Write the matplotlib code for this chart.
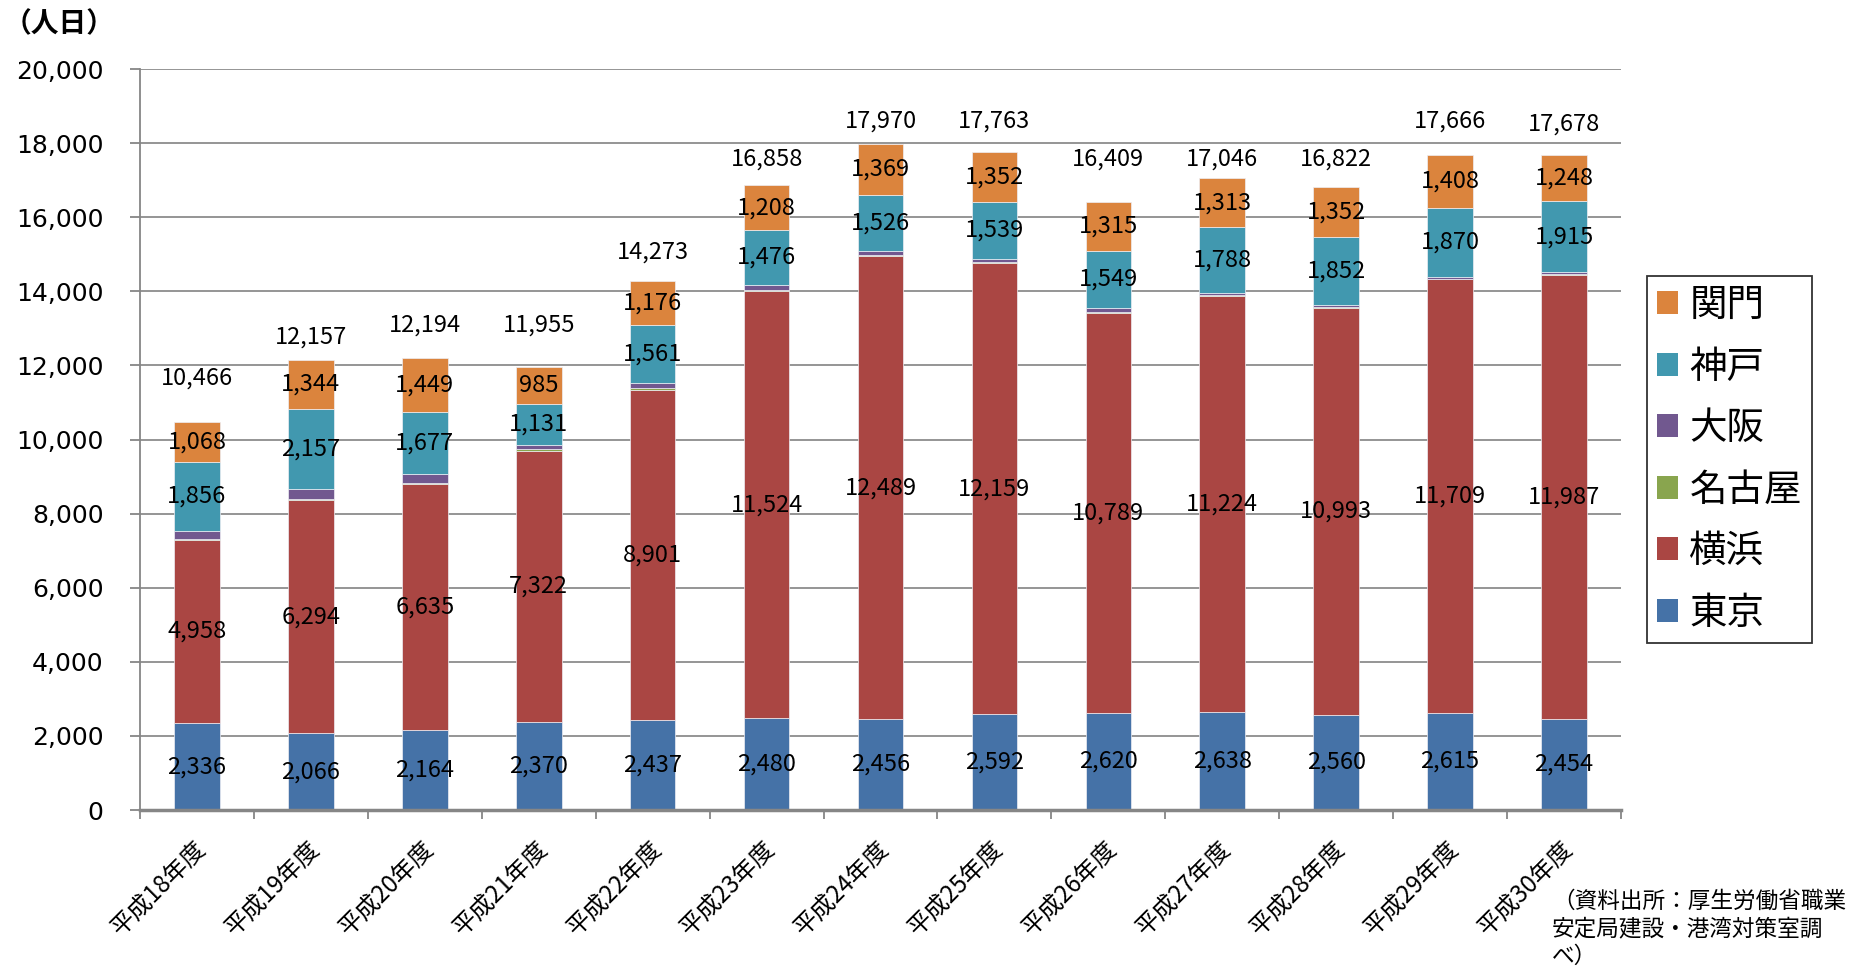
import matplotlib
matplotlib.use('Agg')
import matplotlib.pyplot as plt
import matplotlib.transforms as mtransforms
from matplotlib.patches import Patch
from matplotlib.ticker import FuncFormatter
import numpy as np

plt.rcParams['font.family'] = ['Noto Sans CJK JP', 'DejaVu Sans']

# ---------------- data ----------------
years = ['平成18年度', '平成19年度', '平成20年度', '平成21年度', '平成22年度',
         '平成23年度', '平成24年度', '平成25年度', '平成26年度', '平成27年度',
         '平成28年度', '平成29年度', '平成30年度']
tokyo    = [2336, 2066, 2164, 2370, 2437, 2480, 2456, 2592, 2620, 2638, 2560, 2615, 2454]
yokohama = [4958, 6294, 6635, 7322, 8901, 11524, 12489, 12159, 10789, 11224, 10993, 11709, 11987]
nagoya   = [14, 26, 17, 47, 54, 44, 40, 31, 37, 29, 20, 19, 19]
osaka    = [234, 270, 252, 100, 144, 126, 90, 90, 99, 54, 45, 45, 55]
kobe     = [1856, 2157, 1677, 1131, 1561, 1476, 1526, 1539, 1549, 1788, 1852, 1870, 1915]
kanmon   = [1068, 1344, 1449, 985, 1176, 1208, 1369, 1352, 1315, 1313, 1352, 1408, 1248]
totals   = [10466, 12157, 12194, 11955, 14273, 16858, 17970, 17763, 16409, 17046, 16822, 17666, 17678]

series_names = ['東京', '横浜', '名古屋', '大阪', '神戸', '関門']
series_vals = [tokyo, yokohama, nagoya, osaka, kobe, kanmon]
series_colors = ['#4572A7', '#AA4643', '#89A54E', '#71588F', '#4198AF', '#DB843D']
labelled = [True, True, False, False, True, True]

y_ticks = list(range(0, 20001, 2000))

# ---------------- layout ----------------
# vertical position (data units) of the total labels, as placed in the original
total_label_y = [11660, 12770, 13090, 13090, 15060, 17570, 18600, 18600,
                 17570, 17570, 17570, 18600, 18515]

W, H = 1860, 969
fig = plt.figure(figsize=(W / 100, H / 100), dpi=100)
ax = fig.add_axes([140 / W, 1 - 810 / H, (1621 - 140) / W, (810 - 69) / H])

x = np.arange(len(years))
bottom = np.zeros(len(years))
for name, vals, col, lab in zip(series_names, series_vals, series_colors, labelled):
    v = np.array(vals, dtype=float)
    ax.bar(x, v, 0.4, bottom=bottom, color=col, edgecolor='#eeeef4',
           linewidth=0.5, zorder=3)
    if lab:
        for xi, b, vi in zip(x, bottom, v):
            ax.text(xi, b + vi / 2, f'{int(vi):,}', ha='center', va='center',
                    fontsize=17, color='black', zorder=5)
    bottom = bottom + v

for xi, t, ty in zip(x, totals, total_label_y):
    ax.text(xi, ty, f'{t:,}', ha='center', va='center', fontsize=17,
            color='black', zorder=5)

ax.set_xlim(-0.5, len(years) - 0.5)
ax.set_ylim(0, 20000)
ax.set_yticks(y_ticks)
ax.yaxis.set_major_formatter(FuncFormatter(lambda v, p: f'{int(v):,}'))
ax.yaxis.grid(True, color='#8c8c8c', linewidth=1.3, zorder=0)
ax.set_axisbelow(True)

for s in ['top', 'right']:
    ax.spines[s].set_visible(False)
ax.spines['left'].set_color('#868686')
ax.spines['left'].set_linewidth(1.3)
ax.spines['bottom'].set_color('#868686')
ax.spines['bottom'].set_linewidth(2.5)
ax.spines['bottom'].set_zorder(4)

ax.tick_params(axis='y', length=7.2, width=1.3, color='#868686', pad=19,
               labelsize=18)
for lbl in ax.get_yticklabels():
    lbl.set_family('DejaVu Sans')

ax.set_xticks(x)
ax.set_xticklabels(years, rotation=45, ha='right', fontsize=17.3)
ax.tick_params(axis='x', which='major', length=0, pad=18)
ax.set_xticks(np.arange(-0.5, len(years), 1.0), minor=True)
ax.tick_params(axis='x', which='minor', length=6.5, width=1.3, color='#868686')
offset = mtransforms.ScaledTranslation(14 / 100, 0, fig.dpi_scale_trans)
for lbl in ax.get_xticklabels():
    lbl.set_transform(lbl.get_transform() + offset)

handles = [Patch(facecolor=c, edgecolor='none', label=n)
           for n, c in zip(series_names[::-1], series_colors[::-1])]
leg = fig.legend(handles=handles, loc='upper left',
                 bbox_to_anchor=(1647 / W, 1 - 276 / H),
                 bbox_transform=fig.transFigure, borderaxespad=0,
                 fontsize=27, frameon=True, fancybox=False, shadow=False,
                 handlelength=0.56, handleheight=0.56, handletextpad=0.3,
                 labelspacing=0.6, borderpad=0.27)
leg.get_frame().set_edgecolor('black')
leg.get_frame().set_linewidth(1.3)

fig.text(4 / W, 1 - 24 / H, '（人日）', fontsize=20, fontweight='bold',
         ha='left', va='center')
fig.text(1552 / W, 1 - 890 / H, '（資料出所：厚生労働省職業\n安定局建設・港湾対策室調\nべ）',
         fontsize=16.3, ha='left', va='top', linespacing=1.25)

fig.savefig('out.png', dpi=100)
